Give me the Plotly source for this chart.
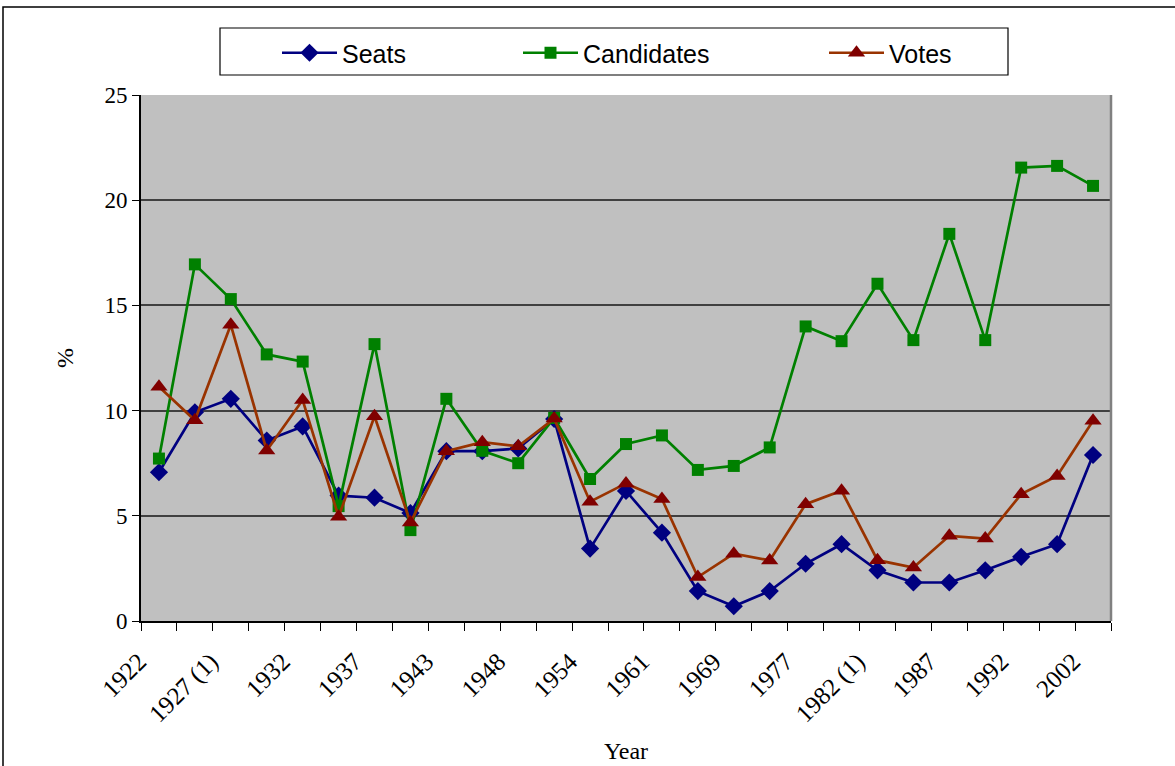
import plotly.graph_objects as go

years = ["1922", "1923", "1927 (1)", "1927 (2)", "1932", "1933", "1937", "1938",
         "1943", "1944", "1948", "1951", "1954", "1957", "1961", "1965", "1969",
         "1973", "1977", "1981", "1982 (1)", "1982 (2)", "1987", "1989", "1992",
         "1997", "2002"]
shown_labels = ["1922", "1927 (1)", "1932", "1937", "1943", "1948", "1954", "1961",
                "1969", "1977", "1982 (1)", "1987", "1992", "2002"]

seats = [7.07, 9.92, 10.56, 8.58, 9.25, 5.96, 5.86, 5.13, 8.07, 8.07, 8.2, 9.6,
         3.44, 6.18, 4.2, 1.42, 0.7, 1.42, 2.72, 3.65, 2.41, 1.83, 1.83, 2.41,
         3.05, 3.65, 7.89]
candidates = [7.72, 16.95, 15.3, 12.67, 12.33, 5.46, 13.16, 4.32, 10.56, 8.09,
              7.5, 9.65, 6.75, 8.41, 8.82, 7.18, 7.37, 8.25, 14.0, 13.3, 16.03,
              13.35, 18.4, 13.35, 21.55, 21.63, 20.68]
votes = [11.13, 9.54, 14.08, 8.1, 10.5, 4.95, 9.73, 4.68, 8.07, 8.5, 8.3, 9.62,
         5.67, 6.54, 5.8, 2.09, 3.2, 2.88, 5.55, 6.19, 2.89, 2.54, 4.05, 3.92,
         6.03, 6.89, 9.52]

ticktext = [y if y in shown_labels else "" for y in years]

W, H = 1175, 766
# plot area in page pixels
PL, PT, PR, PB = 141, 95, 1111, 621
L, T, R, B = PL, PT, W - PR, H - PB
pw, ph = PR - PL, PB - PT


def px(x):
    return (x - PL) / pw


def py(y):
    return (PB - y) / ph


fig = go.Figure()
fig.add_trace(go.Scatter(x=years, y=seats, name="Seats", mode="lines+markers",
                         legend="legend",
                         line=dict(color="#000080", width=2.7),
                         marker=dict(symbol="diamond", size=14, color="#000080")))
fig.add_trace(go.Scatter(x=years, y=candidates, name="Candidates", mode="lines+markers",
                         legend="legend2",
                         line=dict(color="#008000", width=2.7),
                         marker=dict(symbol="square", size=12, color="#008000")))
fig.add_trace(go.Scatter(x=years, y=votes, name="Votes", mode="lines+markers",
                         legend="legend3",
                         line=dict(color="#993300", width=2.7),
                         marker=dict(symbol="triangle-up", size=15, color="#800000")))

leg_common = dict(orientation="h", xanchor="left", yanchor="middle",
                  bgcolor="rgba(0,0,0,0)", borderwidth=0, itemwidth=55,
                  font=dict(family="Liberation Sans", size=25, color="black"))

fig.update_layout(
    width=W, height=H,
    margin=dict(l=L, r=R, t=T, b=B, pad=0, autoexpand=False),
    paper_bgcolor="white",
    plot_bgcolor="#C0C0C0",
    font=dict(family="Liberation Serif", size=22, color="black"),
    showlegend=True,
    legend=dict(x=px(282 - 5), y=py(53), **leg_common),
    legend2=dict(x=px(523 - 5), y=py(53), **leg_common),
    legend3=dict(x=px(829 - 5), y=py(53), **leg_common),
    xaxis=dict(type="category", tickmode="array", tickvals=years, ticktext=ticktext,
               tickson="boundaries", ticks="outside", ticklen=8, tickcolor="black",
               tickwidth=1.2, automargin=False,
               tickangle=-45, showgrid=False, showline=True, linecolor="black",
               linewidth=2, mirror=False, zeroline=False,
               ticklabelstandoff=14, ticklabelshift=-20,
               title=dict(text="Year", font=dict(family="Liberation Serif", size=24),
                          standoff=15),
               tickfont=dict(family="Liberation Serif", size=25),
               range=[-0.5, len(years) - 0.5]),
    yaxis=dict(range=[0, 25], tickvals=[0, 5, 10, 15, 20, 25], ticks="outside",
               ticklen=7, tickcolor="black", tickwidth=1.2, automargin=False,
               showgrid=True, gridcolor="#404040",
               gridwidth=1.5, showline=True, linecolor="black", linewidth=2,
               zeroline=False,
               title=dict(text="%", font=dict(family="Liberation Serif", size=24),
                          standoff=24),
               tickfont=dict(family="Liberation Serif", size=23)),
    shapes=[
        dict(type="line", xref="paper", yref="paper", x0=1, x1=1, y0=0, y1=1,
             line=dict(color="#808080", width=2.5)),
        dict(type="rect", xref="paper", yref="paper",
             x0=px(3), x1=px(1190), y0=py(790), y1=py(7),
             line=dict(color="black", width=1.5)),
        dict(type="rect", xref="paper", yref="paper",
             x0=px(220), x1=px(1008), y0=py(75), y1=py(28),
             fillcolor="white", line=dict(color="black", width=1.2), layer="below"),
    ],
)

fig.write_html(
    "out.html",
    config={"displayModeBar": False},
    post_script="document.body.style.margin='0px';"
                "document.documentElement.style.overflow='hidden';",
)
